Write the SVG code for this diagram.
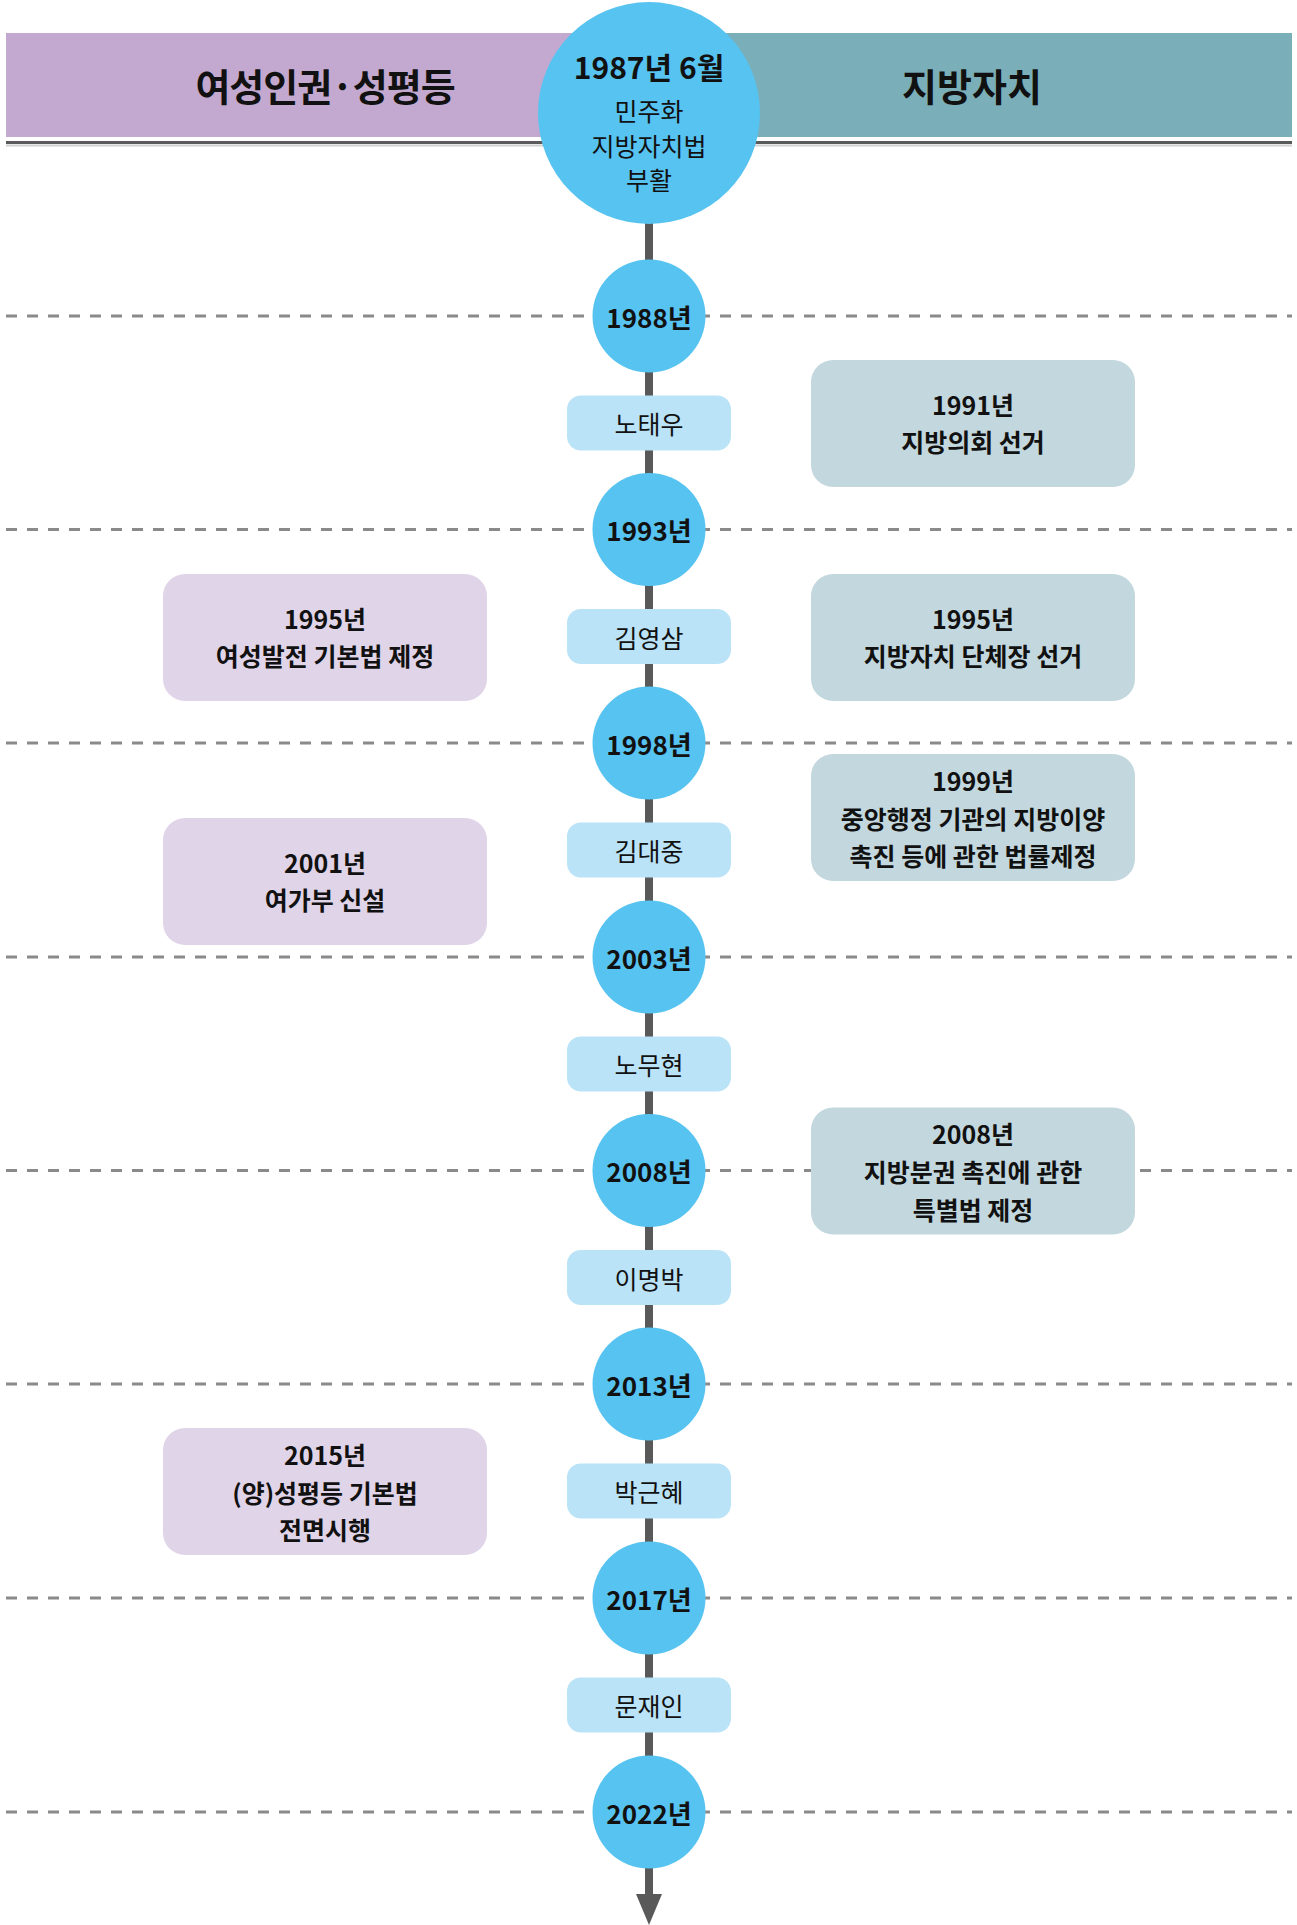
<svg xmlns="http://www.w3.org/2000/svg" width="1297" height="1925" viewBox="0 0 1297 1925">
<style>
text{font-family:"Noto Sans CJK KR","Noto Sans",sans-serif;fill:#111;text-anchor:middle;dominant-baseline:central}
.hdr{font-size:38px;font-weight:700}
.yr{font-size:26px;font-weight:700}
.pres{font-size:25px;font-weight:400}
.ev{font-size:25px;font-weight:700}
.circ{fill:#57C3F1}
.pill{fill:#BAE3F8}
.evL{fill:#E0D4E8}
.evR{fill:#C3D7DE}
.dash{stroke:#8A8A8A;stroke-width:3;stroke-dasharray:11 10;fill:none}
</style>
<rect width="1297" height="1925" fill="#fff"/>
<g id="header">
<rect x="6" y="33" width="643" height="104" fill="#C3A9CF"/>
<rect x="649" y="33" width="643" height="104" fill="#7AAEB8"/>
<line x1="6" y1="142.5" x2="1292" y2="142.5" stroke="#5A5A5A" stroke-width="3"/>
<line x1="6" y1="145.5" x2="1292" y2="145.5" stroke="#D0D0D0" stroke-width="2"/>
<text class="hdr" x="325" y="84" letter-spacing="-1">여성인권·성평등</text>
<text class="hdr" x="972" y="84">지방자치</text>
</g>
<g id="gridlines">
<line class="dash" x1="6" y1="316" x2="1292" y2="316"/>
<line class="dash" x1="6" y1="529.5" x2="1292" y2="529.5"/>
<line class="dash" x1="6" y1="743" x2="1292" y2="743"/>
<line class="dash" x1="6" y1="957" x2="1292" y2="957"/>
<line class="dash" x1="6" y1="1170.5" x2="1292" y2="1170.5"/>
<line class="dash" x1="6" y1="1384" x2="1292" y2="1384"/>
<line class="dash" x1="6" y1="1598" x2="1292" y2="1598"/>
<line class="dash" x1="6" y1="1812" x2="1292" y2="1812"/>
</g>
<g id="connectors">
<line x1="649" y1="200" x2="649" y2="1896" stroke="#595959" stroke-width="8"/>
<polygon points="636,1894 662,1894 649,1925" fill="#595959"/>
</g>
<g id="start">
<circle class="circ" cx="649" cy="113" r="111"/>
<text x="649" y="66" style="font-size:30px;font-weight:700">1987년 6월</text>
<text x="649" y="110" style="font-size:25px">민주화</text>
<text x="649" y="145" style="font-size:25px">지방자치법</text>
<text x="649" y="179" style="font-size:25px">부활</text>
</g>
<g id="y1988"><circle class="circ" cx="649" cy="316" r="56.5"/><text class="yr" x="649" y="316">1988년</text></g>
<g id="y1993"><circle class="circ" cx="649" cy="529.5" r="56.5"/><text class="yr" x="649" y="529.5">1993년</text></g>
<g id="y1998"><circle class="circ" cx="649" cy="743" r="56.5"/><text class="yr" x="649" y="743">1998년</text></g>
<g id="y2003"><circle class="circ" cx="649" cy="957" r="56.5"/><text class="yr" x="649" y="957">2003년</text></g>
<g id="y2008"><circle class="circ" cx="649" cy="1170.5" r="56.5"/><text class="yr" x="649" y="1170.5">2008년</text></g>
<g id="y2013"><circle class="circ" cx="649" cy="1384" r="56.5"/><text class="yr" x="649" y="1384">2013년</text></g>
<g id="y2017"><circle class="circ" cx="649" cy="1598" r="56.5"/><text class="yr" x="649" y="1598">2017년</text></g>
<g id="y2022"><circle class="circ" cx="649" cy="1812" r="56.5"/><text class="yr" x="649" y="1812">2022년</text></g>
<g id="p-roh"><rect class="pill" x="567" y="395.5" width="164" height="55" rx="14"/><text class="pres" x="649" y="423">노태우</text></g>
<g id="p-kys"><rect class="pill" x="567" y="609" width="164" height="55" rx="14"/><text class="pres" x="649" y="636.5">김영삼</text></g>
<g id="p-kdj"><rect class="pill" x="567" y="822.5" width="164" height="55" rx="14"/><text class="pres" x="649" y="850">김대중</text></g>
<g id="p-rmh"><rect class="pill" x="567" y="1036.5" width="164" height="55" rx="14"/><text class="pres" x="649" y="1064">노무현</text></g>
<g id="p-lmb"><rect class="pill" x="567" y="1250" width="164" height="55" rx="14"/><text class="pres" x="649" y="1277.5">이명박</text></g>
<g id="p-pgh"><rect class="pill" x="567" y="1463.5" width="164" height="55" rx="14"/><text class="pres" x="649" y="1491">박근혜</text></g>
<g id="p-mji"><rect class="pill" x="567" y="1677.5" width="164" height="55" rx="14"/><text class="pres" x="649" y="1705">문재인</text></g>
<g id="e1991"><rect class="evR" x="811" y="360" width="324" height="127" rx="22"/><text class="ev" x="973" y="404">1991년</text><text class="ev" x="973" y="441">지방의회 선거</text></g>
<g id="e1995r"><rect class="evR" x="811" y="574" width="324" height="127" rx="22"/><text class="ev" x="973" y="618">1995년</text><text class="ev" x="973" y="655">지방자치 단체장 선거</text></g>
<g id="e1995l"><rect class="evL" x="163" y="574" width="324" height="127" rx="22"/><text class="ev" x="325" y="618">1995년</text><text class="ev" x="325" y="655">여성발전 기본법 제정</text></g>
<g id="e1999"><rect class="evR" x="811" y="754" width="324" height="127" rx="22"/><text class="ev" x="973" y="780">1999년</text><text class="ev" x="973" y="818">중앙행정 기관의 지방이양</text><text class="ev" x="973" y="855">촉진 등에 관한 법률제정</text></g>
<g id="e2001"><rect class="evL" x="163" y="818" width="324" height="127" rx="22"/><text class="ev" x="325" y="862">2001년</text><text class="ev" x="325" y="899">여가부 신설</text></g>
<g id="e2008"><rect class="evR" x="811" y="1107.5" width="324" height="127" rx="22"/><text class="ev" x="973" y="1133">2008년</text><text class="ev" x="973" y="1171">지방분권 촉진에 관한</text><text class="ev" x="973" y="1209">특별법 제정</text></g>
<g id="e2015"><rect class="evL" x="163" y="1428" width="324" height="127" rx="22"/><text class="ev" x="325" y="1454">2015년</text><text class="ev" x="325" y="1492">(양)성평등 기본법</text><text class="ev" x="325" y="1529">전면시행</text></g>
</svg>
